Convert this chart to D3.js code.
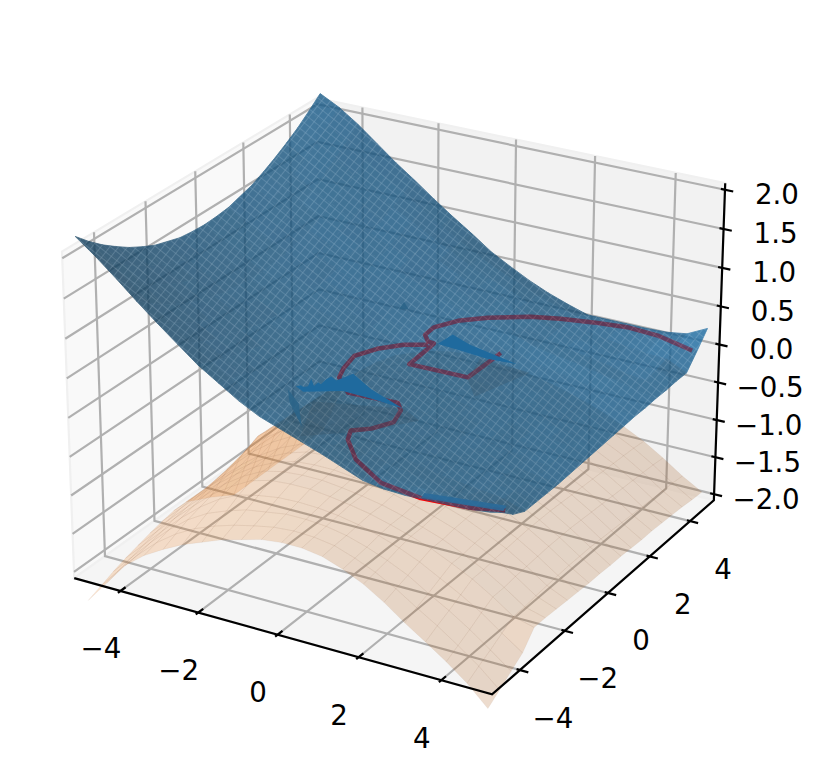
<!DOCTYPE html>
<html><head><meta charset="utf-8">
<script src="https://cdn.jsdelivr.net/npm/d3@7"></script>
<style>html,body{margin:0;padding:0;background:#fff}svg{display:block}text{font-family:"DejaVu Sans";font-size:27.7px;fill:#000}</style>
</head><body><svg id="c" width="821" height="779"></svg>
<script>
const gridX=[-5,-4.5,-4,-3.5,-3,-2.5,-2,-1.5,-1,-.5,0,.5,1,1.5,2,2.5,3,3.5,4,4.5,5];
const gridY=[-5,-4.5,-4,-3.5,-3,-2.5,-2,-1.5,-1,-.5,0,.5,1,1.5,2,2.5,3,3.5,4,4.5,5];
const xTicks=[-4,-2,0,2,4], yTicks=[-4,-2,0,2,4], zTicks=[-2,-1.5,-1,-.5,0,.5,1,1.5,2];
// rows by y, columns by x
const blueZ=[
[2.25,2.06,1.85,1.63,1.42,1.22,1.02,.86,.7,.57,.48,.39,.3,.2,.1,.06,.05,.06,.07,.08,.11],
[2.09,1.9,1.7,1.5,1.31,1.13,.95,.8,.66,.54,.45,.35,.28,.19,.1,.06,.03,.04,.03,.03,-.01],
[1.95,1.76,1.58,1.38,1.22,1.04,.89,.75,.63,.5,.4,.32,.24,.15,.09,.04,0,-.03,-.04,-.07,-.15],
[1.83,1.65,1.47,1.29,1.12,.97,.83,.7,.58,.47,.37,.3,.21,.13,.06,.01,-.05,-.08,-.11,-.14,-.23],
[1.72,1.54,1.37,1.2,1.05,.92,.78,.66,.53,.43,.35,.26,.19,.12,.05,0,-.06,-.1,-.12,-.16,-.23],
[1.63,1.46,1.29,1.13,.99,.86,.73,.62,.51,.41,.31,.23,.16,.1,.03,-.02,-.06,-.11,-.14,-.18,-.23],
[1.55,1.39,1.23,1.08,.94,.81,.7,.59,.48,.38,.3,.22,.15,.09,.03,-.03,-.07,-.11,-.16,-.2,-.23],
[1.5,1.33,1.19,1.03,.91,.77,.67,.57,.46,.36,.28,.21,.14,.08,.03,-.04,-.07,-.12,-.16,-.19,-.22],
[1.45,1.3,1.15,1.01,.88,.75,.65,.55,.45,.36,.28,.21,.14,.08,.02,-.03,-.07,-.11,-.15,-.17,-.21],
[1.43,1.28,1.14,.99,.87,.75,.65,.55,.45,.35,.28,.21,.14,.08,.02,-.02,-.06,-.11,-.13,-.17,-.2],
[1.42,1.27,1.13,.99,.87,.75,.65,.55,.45,.36,.29,.22,.15,.09,.04,-.01,-.05,-.09,-.12,-.16,-.19],
[1.43,1.28,1.14,1.01,.89,.77,.67,.57,.46,.37,.3,.23,.16,.1,.05,0,-.04,-.08,-.12,-.15,-.18],
[1.45,1.3,1.17,1.03,.92,.79,.69,.59,.49,.4,.33,.25,.18,.12,.07,.02,-.02,-.07,-.11,-.14,-.17],
[1.5,1.35,1.21,1.07,.95,.83,.73,.63,.53,.44,.36,.29,.21,.15,.09,.04,-.01,-.05,-.1,-.13,-.16],
[1.55,1.41,1.27,1.12,1,.89,.78,.67,.57,.47,.4,.32,.25,.17,.11,.06,.01,-.04,-.08,-.12,-.16],
[1.63,1.48,1.33,1.19,1.07,.95,.83,.73,.62,.52,.43,.36,.29,.23,.15,.1,.06,.01,-.04,-.1,-.15],
[1.72,1.56,1.41,1.28,1.14,1,.89,.78,.65,.55,.46,.37,.3,.22,.15,.09,.04,0,-.06,-.09,-.15],
[1.82,1.66,1.52,1.36,1.22,1.07,.95,.82,.71,.59,.48,.38,.31,.24,.15,.1,.07,.01,-.02,-.06,-.14],
[1.93,1.79,1.63,1.46,1.3,1.15,1.02,.88,.75,.61,.5,.41,.3,.21,.14,.1,.05,.02,-.01,-.02,-.14],
[2.06,1.92,1.76,1.57,1.4,1.24,1.07,.92,.77,.62,.5,.39,.28,.2,.13,.1,.07,.05,.05,.06,.04],
[2.2,2.07,1.9,1.7,1.5,1.32,1.13,.95,.78,.6,.46,.33,.22,.13,.05,.05,.05,.05,.06,.1,.23]];
const orangeZ=[
[-2.4,-2.1,-1.8,-1.6,-1.45,-1.32,-1.22,-1.12,-1.05,-.98,-.95,-.95,-.99,-1.08,-1.2,-1.36,-1.55,-1.72,-1.9,-2.1,-2.35],
[-2.33,-2.05,-1.78,-1.55,-1.37,-1.23,-1.13,-1.05,-.99,-.94,-.92,-.93,-.97,-1.06,-1.17,-1.31,-1.48,-1.64,-1.82,-2.01,-2.24],
[-2.26,-2,-1.74,-1.5,-1.3,-1.15,-1.05,-.97,-.93,-.89,-.89,-.91,-.96,-1.04,-1.14,-1.26,-1.42,-1.57,-1.74,-1.93,-2.13],
[-2.2,-1.95,-1.7,-1.46,-1.25,-1.08,-.96,-.9,-.86,-.85,-.86,-.89,-.94,-1.01,-1.1,-1.21,-1.35,-1.49,-1.65,-1.84,-2.02],
[-2.15,-1.9,-1.65,-1.42,-1.2,-1.03,-.89,-.82,-.8,-.8,-.83,-.87,-.92,-.99,-1.07,-1.16,-1.28,-1.41,-1.57,-1.75,-1.82],
[-2.1,-1.86,-1.62,-1.39,-1.18,-1.01,-.88,-.82,-.8,-.8,-.83,-.87,-.92,-.99,-1.07,-1.16,-1.28,-1.41,-1.57,-1.75,-1.82],
[-2.06,-1.82,-1.58,-1.36,-1.16,-1,-.88,-.8,-.78,-.78,-.81,-.85,-.9,-.97,-1.05,-1.14,-1.26,-1.39,-1.55,-1.73,-1.83],
[-2.03,-1.8,-1.56,-1.34,-1.15,-.99,-.87,-.79,-.77,-.77,-.8,-.84,-.89,-.96,-1.04,-1.13,-1.25,-1.38,-1.54,-1.72,-1.84],
[-2.03,-1.79,-1.55,-1.33,-1.14,-.98,-.87,-.78,-.76,-.76,-.79,-.83,-.88,-.95,-1.03,-1.12,-1.24,-1.37,-1.53,-1.71,-1.85],
[-2.12,-1.77,-1.5,-1.27,-1.08,-.94,-.84,-.77,-.75,-.75,-.78,-.82,-.87,-.94,-1.02,-1.11,-1.23,-1.36,-1.52,-1.7,-1.86],
[-2.2,-1.74,-1.42,-1.2,-1.03,-.91,-.82,-.77,-.75,-.75,-.78,-.82,-.87,-.94,-1.02,-1.11,-1.23,-1.36,-1.52,-1.7,-1.86],
[-2.3,-1.71,-1.35,-1.15,-1,-.9,-.82,-.77,-.75,-.75,-.78,-.82,-.87,-.94,-1.02,-1.11,-1.23,-1.36,-1.52,-1.7,-1.87],
[-2.4,-1.72,-1.36,-1.16,-1.01,-.91,-.83,-.78,-.76,-.76,-.79,-.83,-.88,-.95,-1.03,-1.12,-1.24,-1.37,-1.53,-1.71,-1.87],
[-2.4,-1.73,-1.37,-1.17,-1.02,-.92,-.84,-.79,-.77,-.77,-.8,-.84,-.89,-.96,-1.04,-1.13,-1.25,-1.38,-1.54,-1.72,-1.88],
[-2.4,-1.74,-1.38,-1.18,-1.03,-.93,-.85,-.8,-.78,-.78,-.81,-.85,-.9,-.97,-1.05,-1.14,-1.26,-1.39,-1.55,-1.73,-1.89],
[-2.4,-1.75,-1.39,-1.19,-1.04,-.94,-.86,-.81,-.79,-.79,-.82,-.86,-.91,-.98,-1.06,-1.15,-1.27,-1.4,-1.56,-1.74,-1.89],
[-2.4,-1.76,-1.4,-1.2,-1.05,-.95,-.87,-.82,-.8,-.8,-.83,-.87,-.92,-.99,-1.07,-1.16,-1.28,-1.41,-1.57,-1.75,-1.9],
[-2.4,-1.77,-1.41,-1.21,-1.06,-.96,-.88,-.83,-.81,-.81,-.84,-.88,-.93,-1,-1.08,-1.17,-1.29,-1.42,-1.58,-1.76,-1.91],
[-2.4,-1.78,-1.42,-1.22,-1.07,-.97,-.89,-.84,-.82,-.82,-.85,-.89,-.94,-1.01,-1.09,-1.18,-1.3,-1.43,-1.59,-1.77,-1.92],
[-2.4,-1.79,-1.43,-1.23,-1.08,-.98,-.9,-.85,-.83,-.83,-.86,-.9,-.95,-1.02,-1.1,-1.19,-1.31,-1.44,-1.6,-1.78,-1.94],
[-2.4,-1.8,-1.45,-1.25,-1.1,-1,-.92,-.87,-.85,-.85,-.88,-.92,-.97,-1.04,-1.12,-1.21,-1.33,-1.46,-1.62,-1.8,-1.95]];
const contourLevel=.1;
const contourA=[[5,4.25],[4.01,4.58],[3.18,4.65],[2.41,4.51],[1.67,4.32],[1.04,4.08],[.23,3.55],[-.27,3.07],[-.56,2.48],[-.53,2.03],[-.29,1.75],[-.13,1.73],[-.11,1.56],[-.05,.49],[1.4,.53],[1.41,1.68],[1.4,2.02]];
const contourB=[[-.2,1.6],[-.67,1.33],[-1.05,.88],[-1.32,.27],[-1.19,-.41],[-1.03,-.87],[-.46,-1.45],[.74,-1.37],[.98,-1.66],[1.14,-2.24],[.89,-2.76],[.56,-3.06],[.73,-3.47],[1.28,-4.06,.05],[2.23,-4.65,.02],[3.28,-4.82,.01],[4.39,-4.69,.01],[5.05,-4.44,.01]];
const wingLeft=[[-1.61,-1.73],[-1.54,-1.64],[-1.44,-1.68],[-1.38,-1.6],[-1.52,-1.23],[-1.27,-1.53],[-1.29,-1.32],[-1.19,-1.37],[-1.22,-1.1],[-1.2,-.92],[-1,-1.04],[-.86,-.55],[-.13,-1.04],[.97,-1.56],[.12,-1.47],[-.6,-1.44],[-1.32,-1.9]];
const wingRight=[[-.04,1.75],[0,2.35],[.6,2.06],[2,1.67],[1.29,1.6],[.56,1.69],[.03,1.74]];
const rimStrip=[[-1.68,-1.95],[-1.1,-2.45],[-.45,-3.4],[-1.3,-2.5]];
const topFleck=[[-1.85,3.39],[-1.54,3.06],[-1.75,2.99]];
const edgeBand=[[3.3,-4.7,.05],[5.05,-4.38,.05],[5.05,-4.52,.02],[3.3,-4.85,.02]];
const foldLeft=[[-.88,-2.22],[.99,-1.55],[1.57,-1.9],[.93,-2.88],[-.22,-3.84]];
const foldRight=[[1.15,1.52],[2.47,1.42],[2.01,-.27],[1.45,.44]];

const xLim=5.2083, zLim=2.083;
const elev=25*Math.PI/180, azim=-60*Math.PI/180;
const hb=.5714, hz=.4286, dist=10;
const sx=d3.scaleLinear([-xLim,xLim],[-hb,hb]), sy=d3.scaleLinear([-xLim,xLim],[-hb,hb]), sz=d3.scaleLinear([-zLim,zLim],[-hz,hz]);
const n=[Math.cos(elev)*Math.cos(azim),Math.cos(elev)*Math.sin(azim),Math.sin(elev)];
const u=[-n[1],n[0],0].map(v=>v/Math.hypot(n[0],n[1]));
const v=[n[1]*u[2]-n[2]*u[1],n[2]*u[0]-n[0]*u[2],n[0]*u[1]-n[1]*u[0]];
const dot=(a,b)=>a[0]*b[0]+a[1]*b[1]+a[2]*b[2];
const pxS=d3.scaleLinear([0,1],[400,400+4170]), pyS=d3.scaleLinear([0,1],[380.5,380.5-4140]);
function proj(x,y,z){const p=[sx(x),sy(y),sz(z)],w=dist-dot(n,p);return [pxS(dot(u,p)/w),pyS(dot(v,p)/w)];}
function depth(x,y,z){return dot(n,[sx(x),sy(y),sz(z)]);}
const svg=d3.select('#c');
const line=d3.line(), poly=d3.line().curve(d3.curveLinearClosed);

const defs=svg.append('defs');
const pat=defs.append('pattern').attr('id','hatch').attr('width',7).attr('height',7).attr('patternUnits','userSpaceOnUse').attr('patternTransform','rotate(38)');
pat.append('path').attr('d','M0 0H7M0 0V7').attr('stroke','#cfe6f7').attr('stroke-width',1.1).attr('stroke-opacity',.33).attr('fill','none');

// panes
const X0=-xLim,X1=xLim,Y0=-xLim,Y1=xLim,Z0=-zLim,Z1=zLim;
const panes=[[[[X0,Y0,Z0],[X0,Y1,Z0],[X0,Y1,Z1],[X0,Y0,Z1]],'#f9f9f9'],[[[X0,Y1,Z0],[X1,Y1,Z0],[X1,Y1,Z1],[X0,Y1,Z1]],'#f2f2f2'],[[[X0,Y0,Z0],[X1,Y0,Z0],[X1,Y1,Z0],[X0,Y1,Z0]],'#f5f5f5']];
panes.forEach(([pts,c])=>svg.append('path').attr('d',poly(pts.map(p=>proj(...p)))).attr('fill',c).attr('stroke','#f0f0f0').attr('stroke-width',2.2));
// grid
const grid=svg.append('g').attr('fill','none').attr('stroke','#b0b0b0').attr('stroke-width',2.2);
xTicks.forEach(t=>grid.append('path').attr('d',line([[t,Y0,Z0],[t,Y1,Z0],[t,Y1,Z1]].map(p=>proj(...p)))));
yTicks.forEach(t=>grid.append('path').attr('d',line([[X1,t,Z0],[X0,t,Z0],[X0,t,Z1]].map(p=>proj(...p)))));
zTicks.forEach(t=>grid.append('path').attr('d',line([[X1,Y1,t],[X0,Y1,t],[X0,Y0,t]].map(p=>proj(...p)))));

function cells(Z,rgb){
  const out=[];const L=[-.6667,-.6667,.3333];
  for(let j=0;j<gridY.length-1;j++)for(let i=0;i<gridX.length-1;i++){
    const q=[[i,j],[i+1,j],[i+1,j+1],[i,j+1]].map(([a,b])=>[gridX[a],gridY[b],Z[b][a]]);
    const dx=((q[1][2]+q[2][2])-(q[0][2]+q[3][2]))/2/(gridX[i+1]-gridX[i])*(sz(1)-sz(0))/(sx(1)-sx(0));
    const dy=((q[2][2]+q[3][2])-(q[0][2]+q[1][2]))/2/(gridY[j+1]-gridY[j])*(sz(1)-sz(0))/(sy(1)-sy(0));
    const len=Math.hypot(dx,dy,1),nn=[-dx/len,-dy/len,1/len];
    const k=.3+.7*(dot(nn,L)+1)/2;
    out.push({pts:q.map(p=>proj(...p)),d:d3.mean(q,p=>depth(...p)),c:`rgb(${rgb.map(c=>Math.round(c*k)).join(',')})`});
  }
  return out.sort((a,b)=>a.d-b.d);
}
// orange
const oc=cells(orangeZ,[255,127,14]);
svg.append('g').selectAll('path').data(oc).join('path').attr('d',d=>poly(d.pts)).attr('fill',d=>d.c).attr('fill-opacity',.2).attr('stroke','#9a7a60').attr('stroke-opacity',.14).attr('stroke-width',.6);
// contour under blue
const c3=a=>a.map(p=>proj(p[0],p[1],p.length>2?p[2]:contourLevel));
const cg=svg.append('g').attr('fill','none').attr('stroke','#ff0000').attr('stroke-width',4.4).attr('stroke-linejoin','round');
[contourA,contourB].forEach(a=>cg.append('path').attr('d',line(c3(a))));
// blue
const bc=cells(blueZ,[31,119,180]);
const bg=svg.append('g').attr('opacity',.8);
bg.selectAll('path.q').data(bc).join('path').attr('class','q').attr('d',d=>poly(d.pts)).attr('fill',d=>d.c).attr('stroke',d=>d.c).attr('stroke-width',.8);
bg.append('path').attr('d',bc.map(d=>poly(d.pts)).join('')).attr('fill','url(#hatch)');
// contour overlay seen through the blue
const cg2=svg.append('g').attr('fill','none').attr('stroke','#ff0000').attr('stroke-opacity',.15).attr('stroke-width',4.4).attr('stroke-linejoin','round');
[contourA,contourB].forEach(a=>cg2.append('path').attr('d',line(c3(a))));
// folds and wings
[foldLeft,foldRight].forEach(a=>svg.append('path').attr('d',poly(c3(a))).attr('fill','#3d4f5c').attr('fill-opacity',.22));
[wingLeft,wingRight].forEach(a=>svg.append('path').attr('d',poly(c3(a))).attr('fill','#1f6a9e'));
[rimStrip,topFleck].forEach(a=>svg.append('path').attr('d',poly(c3(a))).attr('fill','#2b6488').attr('fill-opacity',.9));
svg.append('path').attr('d',poly(c3(edgeBand))).attr('fill','#2a6a9a').attr('fill-opacity',.9);
// axes
const ax=svg.append('g').attr('fill','none').attr('stroke','#000').attr('stroke-width',2.2);
ax.append('path').attr('d',line([[X0,Y0,Z0],[X1,Y0,Z0],[X1,Y1,Z0],[X1,Y1,Z1]].map(p=>proj(...p))));
xTicks.forEach(t=>ax.append('path').attr('d',line([[t,Y0-.1,Z0],[t,Y0+.2,Z0]].map(p=>proj(...p)))));
yTicks.forEach(t=>ax.append('path').attr('d',line([[X1-.08,t,Z0],[X1+.2,t,Z0]].map(p=>proj(...p)))));
zTicks.forEach(t=>ax.append('path').attr('d',line([[X1-.1,Y1,t],[X1+.2,Y1,t]].map(p=>proj(...p)))));
const fmt=t=>String(t).replace('-','\u2212'), fmtZ=t=>t.toFixed(1).replace('-','\u2212');
const lab=svg.append('g').attr('text-anchor','middle').attr('dominant-baseline','central');
xTicks.forEach(t=>{const p=proj(t,Y0,Z0);lab.append('text').attr('x',p[0]-19.5).attr('y',p[1]+58).text(fmt(t));});
yTicks.forEach(t=>{const p=proj(X1,t,Z0);lab.append('text').attr('x',p[0]+33).attr('y',p[1]+48).text(fmt(t));});
zTicks.forEach(t=>{const p=proj(X1,Y1,t);lab.append('text').attr('x',p[0]+52).attr('y',p[1]+5).text(fmtZ(t));});
</script></body></html>
